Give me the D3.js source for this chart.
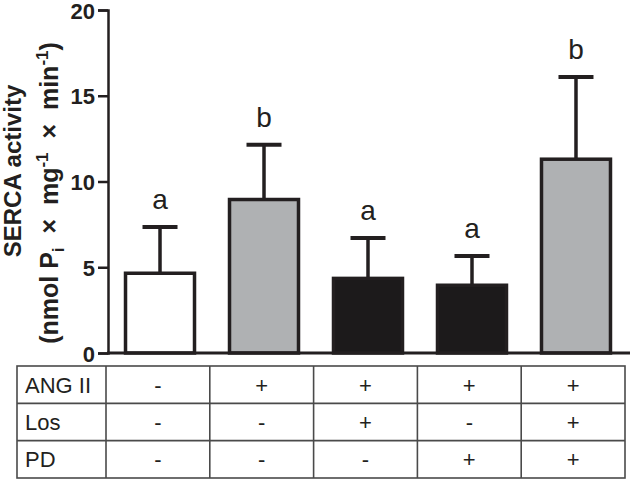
<!DOCTYPE html>
<html>
<head>
<meta charset="utf-8">
<script src="https://cdn.jsdelivr.net/npm/d3@7"></script>
<style>
  body { margin: 0; background: #fff; }
  svg { font-family: "Liberation Sans", Arial, sans-serif; }
</style>
</head>
<body>
<div id="chart"></div>
<script>
'use strict';

// groups and values
const groups    = ['ctrl', 'ang', 'angLos', 'angPd', 'angLosPd'];
const means     = [4.65, 8.95, 4.35, 3.95, 11.3];
const errors    = [2.7, 3.2, 2.35, 1.7, 4.8];
const letters   = ['a', 'b', 'a', 'a', 'b'];
const fills     = ['#ffffff', '#afb1b3', '#1c1a1b', '#1c1a1b', '#afb1b3'];
const yTicks    = [0, 5, 10, 15, 20];

// treatment table
const rowLabels = ['ANG II', 'Los', 'PD'];
const angII     = ['-', '+', '+', '+', '+'];
const los       = ['-', '-', '+', '-', '+'];
const pd        = ['-', '-', '-', '+', '+'];
const rows      = [angII, los, pd];

const ink = '#231f20';
const width = 630, height = 480;

const svg = d3.select('#chart').append('svg')
  .attr('width', width)
  .attr('height', height);

const x = d3.scaleBand()
  .domain(groups)
  .range([108, 628])
  .paddingInner(0.3077)
  .paddingOuter(0.154);

const y = d3.scaleLinear()
  .domain([0, 20])
  .range([353, 10]);

// y axis
const yAxis = svg.append('g')
  .attr('transform', 'translate(108,0)')
  .call(d3.axisLeft(y).tickValues(yTicks).tickSize(10).tickPadding(3));

yAxis.select('.domain').attr('stroke', ink).attr('stroke-width', 2.5);
yAxis.selectAll('.tick line').attr('stroke', ink).attr('stroke-width', 2.5);
yAxis.selectAll('.tick text')
  .attr('fill', ink)
  .attr('dy', '0.37em')
  .style('font-size', '22px')
  .style('font-weight', 'bold')
  .style('font-family', '"Liberation Sans", Arial, sans-serif');

// y label, two lines
const yl = svg.append('g')
  .attr('transform', 'rotate(-90)')
  .attr('fill', ink)
  .style('font-weight', 'bold')
  .style('font-size', '24px');

yl.append('text')
  .attr('x', -171)
  .attr('y', 21)
  .attr('text-anchor', 'middle')
  .text('SERCA activity');

const sp = '\u00a0\u00a0';
const l2 = yl.append('text')
  .attr('x', -193)
  .attr('y', 58)
  .attr('text-anchor', 'middle')
  .style('font-size', '25px');
l2.append('tspan').text('(nmol P');
l2.append('tspan').attr('dy', 6).style('font-size', '17px').text('i');
l2.append('tspan').attr('dy', -6).text(sp + '\u00d7' + sp + 'mg');
l2.append('tspan').attr('dy', -10).style('font-size', '17px').text('-1');
l2.append('tspan').attr('dy', 10).text(sp + '\u00d7' + sp + 'min');
l2.append('tspan').attr('dy', -10).style('font-size', '17px').text('-1');
l2.append('tspan').attr('dy', 10).text(')');

// error bars (upper only)
const eb = svg.append('g');
groups.forEach((g, i) => {
  const cx = x(g) + x.bandwidth() / 2;
  eb.append('line')
    .attr('x1', cx).attr('x2', cx)
    .attr('y1', y(means[i])).attr('y2', y(means[i] + errors[i]))
    .attr('stroke', ink).attr('stroke-width', 3.5);
  eb.append('line')
    .attr('x1', cx - 17.5).attr('x2', cx + 17.5)
    .attr('y1', y(means[i] + errors[i])).attr('y2', y(means[i] + errors[i]))
    .attr('stroke', ink).attr('stroke-width', 4);
});

// bars
svg.append('g')
  .selectAll('rect')
  .data(groups)
  .join('rect')
  .attr('x', d => x(d) + 1.5)
  .attr('width', x.bandwidth() - 3)
  .attr('y', (d, i) => y(means[i]))
  .attr('height', (d, i) => y(0) - y(means[i]))
  .attr('fill', (d, i) => fills[i])
  .attr('stroke', ink)
  .attr('stroke-width', 3.5);

// x baseline
svg.append('line')
  .attr('x1', 107).attr('x2', 630)
  .attr('y1', y(0)).attr('y2', y(0))
  .attr('stroke', ink).attr('stroke-width', 3);

// significance letters
svg.append('g')
  .selectAll('text')
  .data(groups)
  .join('text')
  .attr('x', d => x(d) + x.bandwidth() / 2)
  .attr('y', (d, i) => y(means[i] + errors[i]) - 18)
  .attr('text-anchor', 'middle')
  .attr('fill', ink)
  .style('font-size', '28px')
  .text((d, i) => letters[i]);

// treatment table
const tx = d3.scaleBand().domain(groups).range([106, 625]);
const ty = d3.scaleBand().domain(rowLabels).range([366, 478]);

const tbl = svg.append('g')
  .attr('stroke', '#4a4a4a')
  .attr('stroke-width', 1.6)
  .attr('fill', 'none');

tbl.append('rect')
  .attr('x', 17).attr('y', 366)
  .attr('width', 625 - 17).attr('height', 478 - 366);

rowLabels.slice(1).forEach(r => {
  tbl.append('line')
    .attr('x1', 17).attr('x2', 625)
    .attr('y1', ty(r)).attr('y2', ty(r));
});
groups.forEach(g => {
  tbl.append('line')
    .attr('x1', tx(g)).attr('x2', tx(g))
    .attr('y1', 366).attr('y2', 478);
});

const tt = svg.append('g')
  .attr('fill', ink)
  .style('font-size', '22px');

rowLabels.forEach((r, ri) => {
  const cy = ty(r) + ty.bandwidth() / 2;
  tt.append('text')
    .attr('x', 25).attr('y', cy)
    .attr('dy', '0.36em')
    .text(r);
  groups.forEach((g, gi) => {
    tt.append('text')
      .attr('x', tx(g) + tx.bandwidth() / 2)
      .attr('y', cy)
      .attr('dy', '0.36em')
      .attr('text-anchor', 'middle')
      .text(rows[ri][gi]);
  });
});
</script>
</body>
</html>
